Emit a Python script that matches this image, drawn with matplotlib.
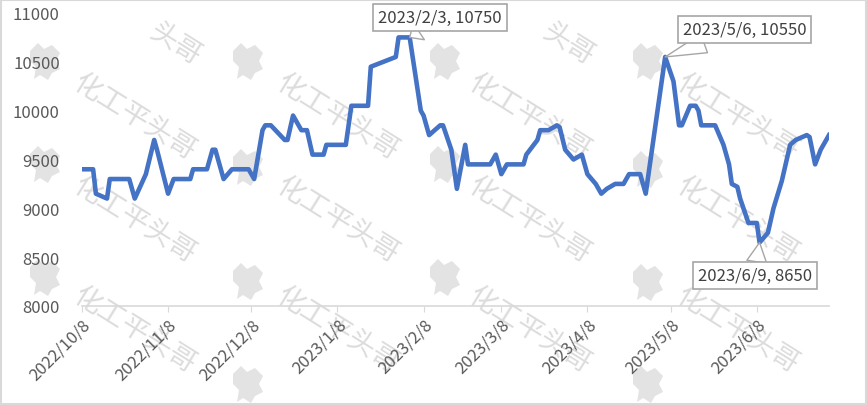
import numpy as np
import pandas as pd
import matplotlib
matplotlib.use('Agg')
import matplotlib.pyplot as plt

plt.rcParams['font.family'] = ['Noto Sans CJK SC', 'DejaVu Sans']

# price series
dates = ['2022-10-08', '2022-10-12', '2022-10-13', '2022-10-17', '2022-10-18', '2022-10-25',
         '2022-10-27', '2022-10-31', '2022-11-03', '2022-11-04', '2022-11-08', '2022-11-10',
         '2022-11-16', '2022-11-17', '2022-11-22', '2022-11-24', '2022-11-25', '2022-11-28',
         '2022-12-01', '2022-12-07', '2022-12-09', '2022-12-12', '2022-12-13', '2022-12-15',
         '2022-12-20', '2022-12-21', '2022-12-23', '2022-12-26', '2022-12-28', '2022-12-30',
         '2023-01-03', '2023-01-04', '2023-01-11', '2023-01-13', '2023-01-19', '2023-01-20',
         '2023-01-29', '2023-01-30', '2023-02-03', '2023-02-07', '2023-02-08', '2023-02-10',
         '2023-02-14', '2023-02-15', '2023-02-18', '2023-02-20', '2023-02-23', '2023-02-24',
         '2023-03-04', '2023-03-06', '2023-03-08', '2023-03-10', '2023-03-16', '2023-03-17',
         '2023-03-21', '2023-03-22', '2023-03-25', '2023-03-28', '2023-03-29', '2023-03-31',
         '2023-04-03', '2023-04-06', '2023-04-08', '2023-04-11', '2023-04-13', '2023-04-15',
         '2023-04-18', '2023-04-21', '2023-04-23', '2023-04-27', '2023-04-29', '2023-05-06',
         '2023-05-09', '2023-05-11', '2023-05-12', '2023-05-15', '2023-05-17', '2023-05-18',
         '2023-05-19', '2023-05-24', '2023-05-27', '2023-05-29', '2023-05-30', '2023-06-01',
         '2023-06-02', '2023-06-05', '2023-06-08', '2023-06-09', '2023-06-12', '2023-06-14',
         '2023-06-17', '2023-06-20', '2023-06-22', '2023-06-26', '2023-06-27', '2023-06-29',
         '2023-07-01', '2023-07-04']
prices = [9400, 9400, 9150, 9100, 9300, 9300,
          9100, 9350, 9700, 9600, 9150, 9300,
          9300, 9400, 9400, 9600, 9600, 9300,
          9400, 9400, 9300, 9800, 9850, 9850,
          9700, 9700, 9950, 9800, 9800, 9550,
          9550, 9650, 9650, 10050, 10050, 10450,
          10550, 10750, 10750, 10000, 9950, 9750,
          9850, 9850, 9600, 9200, 9650, 9450,
          9450, 9550, 9350, 9450, 9450, 9550,
          9700, 9800, 9800, 9850, 9830, 9600,
          9500, 9550, 9350, 9250, 9150, 9200,
          9250, 9250, 9350, 9350, 9150, 10550,
          10300, 9850, 9850, 10050, 10050, 10000,
          9850, 9850, 9650, 9450, 9250, 9220,
          9100, 8850, 8850, 8650, 8750, 9000,
          9280, 9650, 9700, 9750, 9730, 9450,
          9600, 9750]

tick_dates = ['2022-10-08', '2022-11-08', '2022-12-08', '2023-01-08', '2023-02-08',
              '2023-03-08', '2023-04-08', '2023-05-08', '2023-06-08']
tick_labels = ['2022/10/8', '2022/11/8', '2022/12/8', '2023/1/8', '2023/2/8',
               '2023/3/8', '2023/4/8', '2023/5/8', '2023/6/8']

callouts = [('2023-02-03', 10750, '2023/2/3, 10750'),
            ('2023-05-06', 10550, '2023/5/6, 10550'),
            ('2023-06-09', 8650, '2023/6/9, 8650')]

df = pd.DataFrame({'date': pd.to_datetime(dates), 'price': prices})

W, H = 867, 406
fig = plt.figure(figsize=(W / 100, H / 100), dpi=100)
ax = fig.add_axes([82 / W, 1 - 307 / H, (829 - 82) / W, (307 - 14) / H])

# border around the whole chart
fig.patches.append(plt.Rectangle((1 / W, 1 / H), 1 - 2 / W, 1 - 2 / H, transform=fig.transFigure,
                                 fill=False, ec='#d9d9d9', lw=1.5))

# watermark: text + little map logo
for wx in [135, 338, 530, 738]:
    for wy in [117, 220, 330]:
        fig.text(wx / W, 1 - wy / H, '化工平头哥', fontsize=20, color='#dcdcdc',
                 rotation=-32, ha='center', va='center', zorder=-1)
for wx in [175, 568]:
    fig.text(wx / W, 1 - 44 / H, '头哥', fontsize=20, color='#dcdcdc',
             rotation=-32, ha='center', va='center', zorder=-1)

blob = np.array([(0, 8), (8, 0), (14, 6), (22, 2), (30, 10), (26, 18), (30, 26), (22, 30),
                 (18, 37), (10, 32), (4, 36), (6, 24), (0, 18)], dtype=float)
logo_pos = [(45, 62), (248, 62), (445, 62), (648, 62),
            (45, 165), (248, 168), (445, 165), (648, 170),
            (45, 278), (248, 282), (445, 278), (648, 283),
            (248, 385), (648, 385)]
for bx, by in logo_pos:
    pts = blob - [15, 18] + [bx, by]
    fig.patches.append(plt.Polygon(np.column_stack([pts[:, 0] / W, 1 - pts[:, 1] / H]),
                                   closed=True, transform=fig.transFigure,
                                   fc='#e3e3e3', ec='none', zorder=-1))

ax.plot(df['date'], df['price'], color='#4472c4', lw=3.3, solid_joinstyle='round', zorder=3)

ax.set_ylim(8000, 11000)
ax.set_yticks(np.arange(8000, 11001, 500))
ax.set_xlim(df['date'].iloc[0], df['date'].iloc[-1])
ax.set_xticks(pd.to_datetime(tick_dates))
ax.set_xticklabels(tick_labels, rotation=45, ha='right', rotation_mode='anchor')

ax.patch.set_alpha(0)
for s in ['top', 'right', 'left']:
    ax.spines[s].set_visible(False)
ax.spines['bottom'].set_color('#d9d9d9')
ax.spines['bottom'].set_linewidth(1.2)
ax.tick_params(axis='y', length=0, labelsize=12, labelcolor='#595959', pad=16)
ax.tick_params(axis='x', length=4, color='#d9d9d9', labelsize=12, labelcolor='#595959', pad=3)

offsets = [(22, 14.5), (57, 20), (-3.5, -24)]
for (d, v, txt), off in zip(callouts, offsets):
    ax.annotate(txt, xy=(pd.Timestamp(d), v), xytext=off, textcoords='offset points',
                ha='center', va='center', fontsize=12, color='#404040',
                bbox=dict(boxstyle='square,pad=0.3', fc='white', ec='#a6a6a6', lw=1.2),
                arrowprops=dict(arrowstyle='wedge,tail_width=1.2,shrink_factor=0.5',
                                fc='white', ec='#a6a6a6', lw=1, shrinkA=0, shrinkB=0),
                zorder=5, annotation_clip=False)

fig.savefig('out.png', dpi=100)
